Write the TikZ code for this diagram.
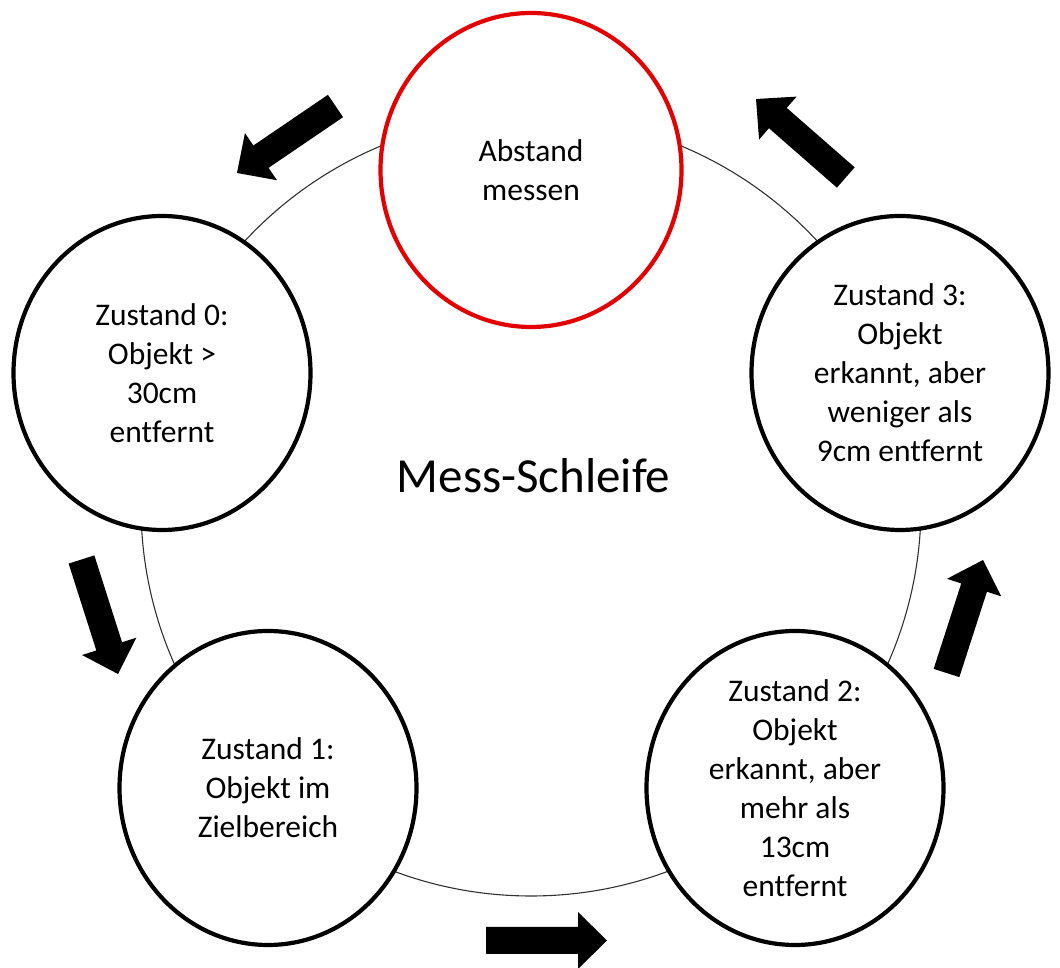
\documentclass[tikz,border=0pt]{standalone}
\usepackage{fontspec}
\setmainfont{Carlito}[Ligatures=NoCommon]
\usetikzlibrary{shapes.geometric,calc}
\definecolor{ringred}{RGB}{226,0,0}
\definecolor{loopgray}{RGB}{50,50,50}
\newcommand{\blockarr}[2]{%
  \path ($(#2)!29pt!(#1)$) coordinate (bh);
  \fill[arrowfill] ($(#1)!13.5pt!90:(#2)$) -- ($(bh)!13.5pt!90:(#2)$)
    -- ($(bh)!28.5pt!90:(#2)$) -- (#2) -- ($(bh)!28.5pt!-90:(#2)$)
    -- ($(bh)!13.5pt!-90:(#2)$) -- ($(#1)!13.5pt!-90:(#2)$) -- cycle;}
\begin{document}
\begin{tikzpicture}[x=1pt,y=1pt,
  state/.style={ellipse, draw=black, line width=4.2pt, fill=white,
    minimum width=297pt, minimum height=314pt, inner sep=0pt,
    align=center, font=\fontsize{31.5}{39}\selectfont},
  startstate/.style={state, draw=ringred, minimum width=301pt},
  looptext/.style={font=\fontsize{49}{58}\selectfont, anchor=base},
  arrowfill/.style={fill=black}]
\useasboundingbox (0,0) rectangle (1060,968);
% big loop
\node[circle, draw=loopgray, line width=1.1pt, minimum size=780pt, inner sep=0pt] (loop) at (531,462) {};
% states
\node[startstate] (mess) at (531,798) {Abstand\\messen};
\node[state] (z0) at (162,595) {Zustand 0:\\Objekt >\\30cm\\entfernt};
\node[state] (z3) at (900,595) {Zustand 3:\\Objekt\\erkannt, aber\\weniger als\\9cm entfernt};
\node[state] (z1) at (268,180) {Zustand 1:\\Objekt im\\Zielbereich};
\node[state] (z2) at (795,180) {Zustand 2:\\Objekt\\erkannt, aber\\mehr als\\13cm\\entfernt};
\node[looptext] (title) at (533.5,475) {Mess-Schleife};
% block arrows
\coordinate (a1s) at (335.5,862); \coordinate (a1e) at (237,795);
\coordinate (a2s) at (845.8,790.5); \coordinate (a2e) at (756,869);
\coordinate (a3s) at (81.5,408.5); \coordinate (a3e) at (118,294);
\coordinate (a4s) at (486,27.5); \coordinate (a4e) at (607,27.5);
\coordinate (a5s) at (946.5,295); \coordinate (a5e) at (983,408);
\blockarr{a1s}{a1e}
\blockarr{a2s}{a2e}
\blockarr{a3s}{a3e}
\blockarr{a4s}{a4e}
\blockarr{a5s}{a5e}
\end{tikzpicture}
\end{document}
